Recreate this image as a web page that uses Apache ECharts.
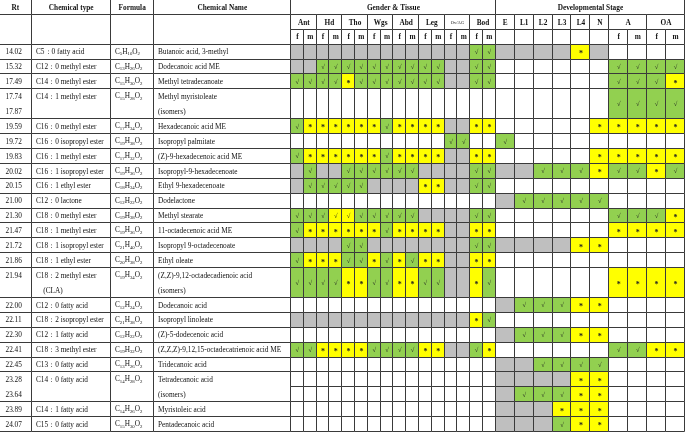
<!DOCTYPE html>
<html><head><meta charset="utf-8">
<script src="https://cdn.jsdelivr.net/npm/echarts@6/dist/echarts.min.js"></script>
<style>html,body{margin:0;padding:0;background:#fff}#c{width:685px;height:432px}</style>
</head><body><div id="c"></div>
<script>
// ---------- DATA ----------
const headerTitles = ['Rt', 'Chemical type', 'Formula', 'Chemical Name', 'Gender & Tissue', 'Developmental Stage'];
const tissueGroups = ['Ant', 'Hd', 'Tho', 'Wgs', 'Abd', 'Leg', 'Ov/AG', 'Bod'];
const stageNames = ['E', 'L1', 'L2', 'L3', 'L4', 'N', 'A', 'OA'];
const sexStages = ['A', 'OA'];
const sexes = ['f', 'm'];

const rt = ['14.02', '15.32', '17.49', '17.74\n17.87', '19.59', '19.72', '19.83', '20.02', '20.15', '21.00',
  '21.30', '21.47', '21.72', '21.86', '21.94', '22.00', '22.11', '22.30', '22.41', '22.45',
  '23.28\n23.64', '23.89', '24.07'];
const chemType = ['C5：0 fatty acid', 'C12：0 methyl ester', 'C14：0 methyl ester', 'C14：1 methyl ester',
  'C16：0 methyl ester', 'C16：0 isopropyl ester', 'C16：1 methyl ester', 'C16：1 isopropyl ester',
  'C16：1 ethyl ester', 'C12：0 lactone', 'C18：0 methyl ester', 'C18：1 methyl ester',
  'C18：1 isopropyl ester', 'C18：1 ethyl ester', 'C18：2 methyl ester\n    (CLA)', 'C12：0 fatty acid',
  'C18：2 isopropyl ester', 'C12：1 fatty acid', 'C18：3 methyl ester', 'C13：0 fatty acid',
  'C14：0 fatty acid', 'C14：1 fatty acid', 'C15：0 fatty acid'];
const formula = ['C5H10O2', 'C13H26O2', 'C15H30O2', 'C15H28O2', 'C17H34O2', 'C19H38O2', 'C17H32O2',
  'C19H36O2', 'C18H34O2', 'C12H22O2', 'C19H38O2', 'C19H36O2', 'C21H40O2', 'C20H38O2', 'C19H34O2',
  'C12H24O2', 'C21H38O2', 'C12H22O2', 'C19H32O2', 'C13H26O2', 'C14H28O2', 'C14H26O2', 'C15H30O2'];
const chemName = ['Butanoic acid, 3-methyl', 'Dodecanoic acid ME', 'Methyl tetradecanoate',
  'Methyl myristoleate\n(isomers)', 'Hexadecanoic acid ME', 'Isopropyl palmitate',
  '(Z)-9-hexadecenoic acid ME', 'Isopropyl-9-hexadecenoate', 'Ethyl 9-hexadecenoate', 'Dodelactone',
  'Methyl stearate', '11-octadecenoic acid ME', 'Isopropyl 9-octadecenoate', 'Ethyl oleate',
  '(Z,Z)-9,12-octadecadienoic acid\n(isomers)', 'Dodecanoic acid', 'Isopropyl linoleate',
  '(Z)-5-dodecenoic acid', '(Z,Z,Z)-9,12,15-octadecatrienoic acid ME', 'Tridecanoic acid',
  'Tetradecanoic acid\n(isomers)', 'Myristoleic acid', 'Pentadecanoic acid'];
// status codes: g = green ✓, y = yellow *, v = yellow ✓, x = grey (absent), . = blank; '|' splits a double row
// tissue order: Ant f,m  Hd f,m  Tho f,m  Wgs f,m  Abd f,m  Leg f,m  Ov/AG f,m  Bod f,m
const tissue = ['xxxxxxxxxxxxxxgg', 'xxggggggggggxxgg', 'ggggygggggggxxgg', '................',
  'gyyyyyygyyyyxxyy', '............gg..', 'gyyyyyygyyyyxxyy', 'xgxxggggggxxxxgg', 'xgggggxxxxyyxxgg',
  '................', 'gggvvgggggxxxxgg', 'gyyyyyygyyyyxxyy', 'xxxxggxxxxxxxxgg', 'gyyyggygygyyxxyy',
  'ggggyyggyyggxxyg', '................', 'xxxxxxxxxxxxxxyg', '................', 'ggyyyyggggyyxxgy',
  '................', '................|................', '................', '................'];
// stage order: E L1 L2 L3 L4 N  A f,m  OA f,m
const stage = ['xxxxyx....', '......gggg', '......gggy', '......gggg', '.....yyyyy', 'g.........',
  '.....yyyyy', 'xxgggyggyg', '..........', 'xggggg....', '......gggy', '......yyyy', 'xxxxyy....',
  '..........', '......yyyy', 'xgggyy....', '..........', 'xgggyy....', '......ggyy', 'xxgggg....',
  'xxxxyy....|xgggyy....', 'xxxyyy....', 'xxxgyy....'];

// ---------- LAYOUT / STYLE ----------
const colEdges = [-1, 31.7, 110.7, 153.7];
for (let i = 0; i <= 16; i++) colEdges.push(291 + i * 12.8);
for (let i = 1; i <= 10; i++) colEdges.push(495.8 + i * 18.92);
const FONT = "'Liberation Serif','Times New Roman',serif";
const LINE = '#3a3a3a';
const STATUS = {
  g: { fill: '#92D050', mark: '√' },
  y: { fill: '#FFFF00', mark: '*' },
  v: { fill: '#FFFF00', mark: '√' },
  x: { fill: '#BFBFBF', mark: '' },
  '.': { fill: '#FFFFFF', mark: '' }
};

const cells = [];
function add(c0, c1, r0, r1, opt) { cells.push(Object.assign({ c0, c1, r0, r1 }, opt || {})); }

// header
for (let i = 0; i < 4; i++) { add(i, i + 1, -3, -2, { hdr: headerTitles[i] }); add(i, i + 1, -2, 0); }
add(4, 20, -3, -2, { hdr: headerTitles[4] });
add(20, 30, -3, -2, { hdr: headerTitles[5] });
tissueGroups.forEach((g, k) => {
  add(4 + 2 * k, 6 + 2 * k, -2, -1, { hdr: g, small: g === 'Ov/AG' });
  sexes.forEach((s, j) => add(4 + 2 * k + j, 5 + 2 * k + j, -1, 0, { hdr: s }));
});
let sc = 20;
stageNames.forEach(n => {
  if (sexStages.includes(n)) {
    add(sc, sc + 2, -2, -1, { hdr: n });
    sexes.forEach((s, j) => add(sc + j, sc + j + 1, -1, 0, { hdr: s }));
    sc += 2;
  } else {
    add(sc, sc + 1, -2, -1, { hdr: n });
    add(sc, sc + 1, -1, 0);
    sc += 1;
  }
});

// body
let r = 0;
rt.forEach((lab, i) => {
  const span = Math.max(lab.split('\n').length, chemType[i].split('\n').length, chemName[i].split('\n').length);
  const r0 = r, r1 = r + span;
  add(0, 1, r0, r1, { lines: lab.split('\n'), pad: 5.5 });
  add(1, 2, r0, r1, { lines: chemType[i].split('\n'), pad: 4.3 });
  add(2, 3, r0, r1, { lines: [formula[i]], formula: true, pad: 4.3 });
  add(3, 4, r0, r1, { lines: chemName[i].split('\n'), pad: 4.3 });
  const tp = tissue[i].split('|'), sp = stage[i].split('|');
  tp.forEach((s, k) => { const h = span / tp.length; for (let j = 0; j < 16; j++) add(4 + j, 5 + j, r0 + k * h, r0 + (k + 1) * h, { status: s[j] }); });
  sp.forEach((s, k) => { const h = span / sp.length; for (let j = 0; j < 10; j++) add(20 + j, 21 + j, r0 + k * h, r0 + (k + 1) * h, { status: s[j] }); });
  r = r1;
});

function richFormula(f) {
  return f.replace(/([A-Z][a-z]?)(\d*)/g, (m, el, n) => '{a|' + el + '}' + (n ? '{b|' + n + '}' : ''));
}

function renderItem(params, api) {
  const c = cells[params.dataIndex];
  const p0 = api.coord([colEdges[c.c0], c.r0]);
  const p1 = api.coord([colEdges[c.c1], c.r1]);
  const x0 = Math.round(p0[0]) - 0.5, y0 = Math.round(p0[1]) - 0.5;
  const x1 = Math.round(p1[0]) - 0.5, y1 = Math.round(p1[1]) - 0.5;
  const st = c.status ? STATUS[c.status] : STATUS['.'];
  const children = [{ type: 'rect', shape: { x: x0, y: y0, width: x1 - x0, height: y1 - y0 },
    style: { fill: st.fill, stroke: LINE, lineWidth: 1 } }];
  const cx = (p0[0] + p1[0]) / 2, cy = (p0[1] + p1[1]) / 2;
  if (c.hdr) {
    children.push({ type: 'text', x: cx, y: cy + 0.3, style: { text: c.hdr, fill: '#111',
      fontFamily: FONT, fontWeight: c.small ? 'normal' : 'bold', fontSize: c.small ? 4.6 : 7.3,
      align: 'center', verticalAlign: 'middle' } });
  }
  if (c.lines) {
    const left = Math.max(p0[0], 0);
    c.lines.forEach((t, k) => {
      const yc = api.coord([0, c.r0 + k + 0.5])[1];
      const style = { text: c.formula ? richFormula(t) : t, fill: '#111', fontFamily: FONT, fontSize: 7.3,
        align: 'left', verticalAlign: 'middle' };
      if (c.formula) {
        style.rich = {
          a: { fontFamily: FONT, fontSize: 7.3, lineHeight: 8.4, verticalAlign: 'top', fill: '#111' },
          b: { fontFamily: FONT, fontSize: 4.8, lineHeight: 5, verticalAlign: 'bottom', fill: '#111' }
        };
      }
      children.push({ type: 'text', x: left + c.pad, y: yc + 0.3, style });
    });
  }
  if (st.mark) {
    const star = st.mark === '*';
    children.push({ type: 'text', x: cx, y: cy + (star ? 1.8 : 0.3), style: { text: st.mark, fill: '#222',
      fontFamily: FONT, fontWeight: star ? 'bold' : 'normal', fontSize: star ? 8 : 6.5,
      align: 'center', verticalAlign: 'middle' } });
  }
  return { type: 'group', children };
}

const chart = echarts.init(document.getElementById('c'), null, { renderer: 'canvas' });
chart.setOption({
  animation: false,
  backgroundColor: '#fff',
  grid: { left: 0, right: 0, top: 0, bottom: 0 },
  xAxis: { type: 'value', min: 0, max: 685, show: false },
  yAxis: { type: 'value', min: -3, max: 26, inverse: true, show: false },
  series: [{
    type: 'custom', clip: false, renderItem,
    encode: { x: 0, y: 1 },
    data: cells.map(c => [(colEdges[c.c0] + colEdges[c.c1]) / 2, (c.r0 + c.r1) / 2])
  }]
});
</script>
</body></html>
